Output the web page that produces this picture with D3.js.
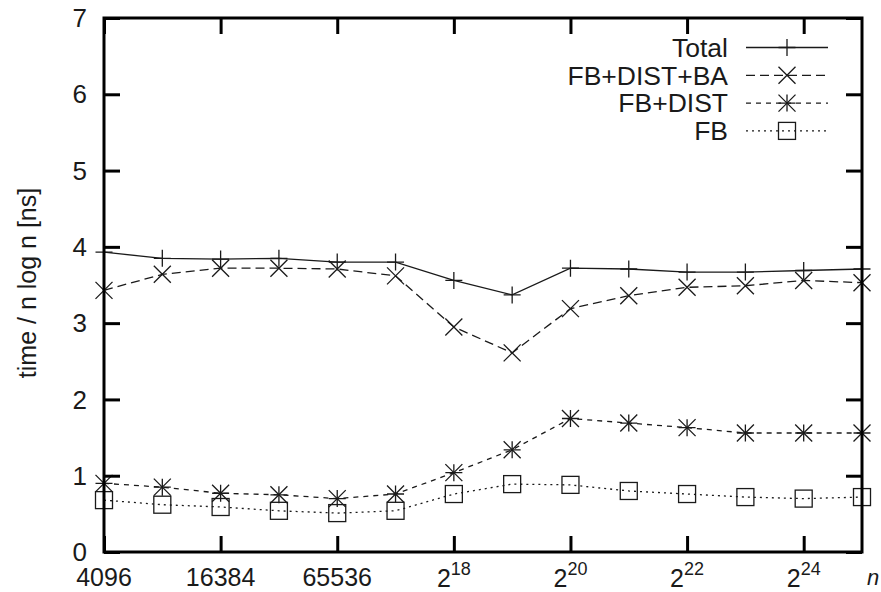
<!DOCTYPE html>
<html>
<head>
<meta charset="utf-8">
<script src="https://cdn.jsdelivr.net/npm/d3@7"></script>
<style>
  html, body { margin: 0; padding: 0; background: #fff; }
  text { font-family: "Liberation Sans", Arial, Helvetica, sans-serif; fill: #1a1a1a; }
</style>
</head>
<body>
<svg id="chart" width="881" height="592"></svg>
<script>
// ---- data ----
const exponents = [12, 13, 14, 15, 16, 17, 18, 19, 20, 21, 22, 23, 24, 25]; // n = 2^e
const total      = [3.93, 3.85, 3.84, 3.85, 3.80, 3.80, 3.56, 3.37, 3.72, 3.71, 3.67, 3.67, 3.69, 3.71];
const fbDistBa   = [3.43, 3.64, 3.72, 3.72, 3.71, 3.62, 2.95, 2.61, 3.19, 3.36, 3.47, 3.49, 3.56, 3.53];
const fbDist     = [0.90, 0.85, 0.77, 0.75, 0.70, 0.76, 1.04, 1.34, 1.75, 1.69, 1.63, 1.56, 1.56, 1.56];
const fb         = [0.68, 0.62, 0.59, 0.54, 0.51, 0.54, 0.76, 0.89, 0.88, 0.80, 0.76, 0.72, 0.70, 0.72];
const seriesNames = ["Total", "FB+DIST+BA", "FB+DIST", "FB"];
const xTickExps = [12, 14, 16, 18, 20, 22, 24];
const xTickLabels = [["4096"], ["16384"], ["65536"], ["2", "18"], ["2", "20"], ["2", "22"], ["2", "24"]];
const yTicks = [0, 1, 2, 3, 4, 5, 6, 7];
const yLabel = "time / n log n [ns]";
const xLabel = "n";

// ---- layout ----
const svg = d3.select("#chart");
const L = 104, R = 862, T = 18, B = 552;
const x = d3.scaleLog().base(2).domain([Math.pow(2, 12), Math.pow(2, 25)]).range([L, R]);
const y = d3.scaleLinear().domain([0, 7]).range([B, T]);
const ink = "#1a1a1a";

const series = [
  { name: seriesNames[0], values: total,    dash: null,   marker: "plus" },
  { name: seriesNames[1], values: fbDistBa, dash: "9,5",  marker: "cross" },
  { name: seriesNames[2], values: fbDist,   dash: "5,5",  marker: "star" },
  { name: seriesNames[3], values: fb,       dash: "2,4",  marker: "square" }
];

function drawMarker(g, type, cx, cy) {
  const s = 8.5;
  if (type === "plus" || type === "star") {
    g.append("path").attr("d", `M${cx - s},${cy}H${cx + s}M${cx},${cy - s}V${cy + s}`)
      .attr("stroke", ink).attr("stroke-width", 1.3).attr("fill", "none");
  }
  if (type === "cross" || type === "star") {
    g.append("path").attr("d", `M${cx - s},${cy - s}L${cx + s},${cy + s}M${cx - s},${cy + s}L${cx + s},${cy - s}`)
      .attr("stroke", ink).attr("stroke-width", 1.3).attr("fill", "none");
  }
  if (type === "square") {
    g.append("rect").attr("x", cx - s).attr("y", cy - s).attr("width", 2 * s).attr("height", 2 * s)
      .attr("stroke", ink).attr("stroke-width", 1.3).attr("fill", "none");
  }
}

// ---- series ----
const line = d3.line().x(d => x(Math.pow(2, d[0]))).y(d => y(d[1]));
const plot = svg.append("g");
series.forEach(s => {
  const pts = exponents.map((e, i) => [e, s.values[i]]);
  plot.append("path").datum(pts).attr("d", line)
    .attr("fill", "none").attr("stroke", ink).attr("stroke-width", 1.3)
    .attr("stroke-dasharray", s.dash);
  pts.forEach(p => drawMarker(plot, s.marker, x(Math.pow(2, p[0])), y(p[1])));
});

// ---- axes (gnuplot style: inward ticks on all sides) ----
const axG = svg.append("g");
const tickLen = 16;
const xAxisB = d3.axisBottom(x).tickValues(xTickExps.map(e => Math.pow(2, e))).tickSizeInner(-tickLen).tickSizeOuter(0).tickFormat("");
const xAxisT = d3.axisTop(x).tickValues(xTickExps.map(e => Math.pow(2, e))).tickSizeInner(-tickLen).tickSizeOuter(0).tickFormat("");
const yAxisL = d3.axisLeft(y).tickValues(yTicks).tickSizeInner(-tickLen).tickSizeOuter(0).tickFormat("");
const yAxisR = d3.axisRight(y).tickValues(yTicks).tickSizeInner(-tickLen).tickSizeOuter(0).tickFormat("");
[[xAxisB, `translate(0,${B})`], [xAxisT, `translate(0,${T})`], [yAxisL, `translate(${L},0)`], [yAxisR, `translate(${R},0)`]]
  .forEach(([ax, tr]) => {
    const g = axG.append("g").attr("transform", tr).call(ax);
    g.selectAll(".domain").remove();
    g.selectAll(".tick line").attr("stroke", "#000").attr("stroke-width", 3);
  });
axG.append("rect").attr("x", L).attr("y", T).attr("width", R - L).attr("height", B - T)
  .attr("fill", "none").attr("stroke", "#000").attr("stroke-width", 3);

// y tick labels
svg.append("g").selectAll("text").data(yTicks).join("text")
  .attr("x", L - 17).attr("y", d => y(d)).attr("dy", "0.35em")
  .attr("text-anchor", "end").attr("font-size", 26).text(d => d);

// x tick labels
const xl = svg.append("g");
xTickExps.forEach((e, i) => {
  const lab = xTickLabels[i];
  const t = xl.append("text").attr("x", x(Math.pow(2, e))).attr("y", 586)
    .attr("text-anchor", "middle").attr("font-size", 25);
  if (lab.length === 1) {
    t.text(lab[0]);
  } else {
    t.attr("y", 587);
    t.append("tspan").text(lab[0]);
    t.append("tspan").attr("font-size", 18).attr("dy", -12).text(lab[1]);
  }
});

// axis titles
svg.append("text").attr("transform", `translate(36,283) rotate(-90)`)
  .attr("text-anchor", "middle").attr("font-size", 25).text(yLabel);
svg.append("text").attr("x", 867).attr("y", 585).attr("font-size", 22)
  .attr("font-style", "italic").text(xLabel);

// ---- legend ----
const leg = svg.append("g");
series.forEach((s, i) => {
  const ly = 47.5 + i * 27.8;
  leg.append("text").attr("x", 728).attr("y", ly).attr("dy", "0.35em")
    .attr("text-anchor", "end").attr("font-size", 26.5).text(s.name);
  leg.append("line").attr("x1", 746).attr("x2", 828).attr("y1", ly).attr("y2", ly)
    .attr("stroke", ink).attr("stroke-width", 1.3).attr("stroke-dasharray", s.dash);
  drawMarker(leg, s.marker, 787, ly);
});
</script>
</body>
</html>
